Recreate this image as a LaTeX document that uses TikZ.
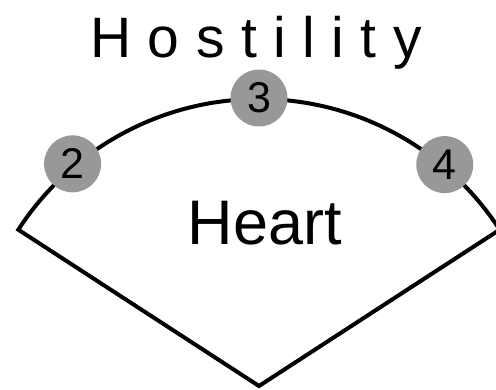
\documentclass[tikz,border=0pt]{standalone}
\usepackage{fontspec}
\setmainfont{Liberation Sans}
\definecolor{dotgray}{RGB}{152,152,152}
\begin{document}
\begin{tikzpicture}[x=1pt,y=1pt,
  numdot/.style={circle, fill=dotgray, minimum size=57pt, inner sep=0pt,
    font=\fontsize{43}{43}\selectfont},
  outline/.style={line width=4pt, line join=miter},
  bigtext/.style={anchor=base, inner sep=0pt}]
\useasboundingbox (0,0) rectangle (496,389);
\coordinate (apex) at (259,3);
\path (apex) ++(147:287) coordinate (lend);
\path (apex) ++(33:287) coordinate (rend);
\draw[outline] (apex) -- (lend) arc[start angle=147, end angle=33, radius=287] -- (apex) -- cycle;
\path (apex) ++(130:290) node[numdot] (c2) {2};
\path (apex) ++(90:288) node[numdot] (c3) {3};
\path (apex) ++(50:289) node[numdot] (c4) {4};
\node[bigtext, font=\fontsize{63}{63}\selectfont] (heart) at (265,145) {Heart};
\node[bigtext, font=\fontsize{57}{57}\selectfont] (hostility) at (256,331)
  {H\kern16.5pt o\kern16.5pt s\kern16.5pt t\kern16.5pt i\kern16.5pt l\kern16.5pt i\kern16.5pt t\kern16.5pt y};
\end{tikzpicture}
\end{document}
